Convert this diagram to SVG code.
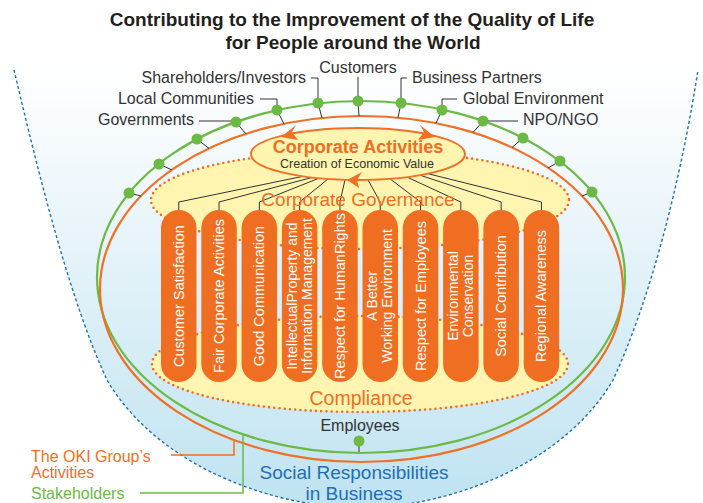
<svg xmlns="http://www.w3.org/2000/svg" width="703" height="503" viewBox="0 0 703 503">
<defs>
<linearGradient id="bowlGrad" gradientUnits="userSpaceOnUse" x1="0" y1="70" x2="0" y2="503">
<stop offset="0" stop-color="#ffffff"/>
<stop offset="0.35" stop-color="#eaf5fa"/>
<stop offset="1" stop-color="#bfe3f1"/>
</linearGradient>
</defs>
<style>
.lbl{font-family:"Liberation Sans",Arial,sans-serif;font-size:16px;fill:#333}
.ln{stroke:#333;stroke-width:1;fill:none}
.dot{fill:#6cb944}
.col{fill:#f06e22}
.ct{font-family:"Liberation Sans",Arial,sans-serif;font-size:14.5px;fill:#fff;text-anchor:middle}
.ct2{font-size:14px}
.band{fill:#fff5b0;stroke:#f07026;stroke-width:2.6;stroke-dasharray:0 5.2;stroke-linecap:round}
.arr{fill:#f07026}
</style>

<g id="bowl">
<path d="M14,70 C40,180 70,300 107,380 C160,470 280,508 360,508 C440,508 560,470 613,380 C650,300 680,185 698,70 Z" fill="url(#bowlGrad)"/>
<path d="M14,70 C40,180 70,300 107,380 C160,470 280,508 360,508 C440,508 560,470 613,380 C650,300 680,185 698,70" fill="none" stroke="#1b70b8" stroke-width="1.4" stroke-dasharray="3 2.5"/>
</g>

<text x="352" y="26" font-family="Liberation Sans, Arial, sans-serif" font-size="19" font-weight="bold" fill="#231f20" text-anchor="middle">Contributing to the Improvement of the Quality of Life</text>
<text x="353" y="49" font-family="Liberation Sans, Arial, sans-serif" font-size="19" font-weight="bold" fill="#231f20" text-anchor="middle">for People around the World</text>

<g id="stakeholders-ring">
<ellipse cx="361" cy="277" rx="264" ry="176" fill="none" stroke="#6cb944" stroke-width="2.2"/>
</g>
<g id="oki-activities-ring">
<ellipse cx="361.5" cy="289" rx="261.5" ry="173" fill="none" stroke="#f07026" stroke-width="2.2"/>
</g>

<g id="governance-band">
<ellipse class="band" cx="360" cy="200" rx="209" ry="49"/>
</g>
<g id="compliance-band">
<ellipse class="band" cx="360" cy="364" rx="208" ry="48"/>
</g>

<g id="connectors">
<polyline class="ln" points="358,77 358,101"/>
<polyline class="ln" points="311,78 318,78 318,103"/>
<polyline class="ln" points="407,78 401,78 401,103"/>
<polyline class="ln" points="260,99 277,99 277,110"/>
<polyline class="ln" points="457,99 442,99 442,110"/>
<polyline class="ln" points="199,121 236,121"/>
<polyline class="ln" points="483,121 518,121"/>
<line class="ln" x1="129" y1="193" x2="141" y2="196"/>
<line class="ln" x1="159" y1="164" x2="172" y2="170"/>
<line class="ln" x1="197" y1="139" x2="209" y2="148.5"/>
<line class="ln" x1="236" y1="122" x2="246" y2="134"/>
<line class="ln" x1="277" y1="110" x2="284" y2="124"/>
<line class="ln" x1="318" y1="103" x2="322" y2="118"/>
<line class="ln" x1="358" y1="101" x2="359" y2="116"/>
<line class="ln" x1="401" y1="103" x2="398" y2="117.7"/>
<line class="ln" x1="442" y1="110" x2="436" y2="123.2"/>
<line class="ln" x1="483" y1="121" x2="473" y2="132.5"/>
<line class="ln" x1="523" y1="138" x2="512" y2="147.5"/>
<line class="ln" x1="560" y1="161" x2="548" y2="168"/>
<line class="ln" x1="592" y1="192" x2="582" y2="196"/>
<line class="ln" x1="359" y1="441" x2="359" y2="452"/>
<polyline class="ln" points="303,176.3 178.75,202 178.75,210"/>
<polyline class="ln" points="312,177.5 219.05,202 219.05,210"/>
<polyline class="ln" points="319,178.2 259.35,202 259.35,210"/>
<polyline class="ln" points="328,179 299.65,202 299.65,210"/>
<polyline class="ln" points="345,179.8 339.95,202 339.95,210"/>
<polyline class="ln" points="368,179.9 380.25,202 380.25,210"/>
<polyline class="ln" points="390,178.8 420.55,202 420.55,210"/>
<polyline class="ln" points="407,177.1 460.85,202 460.85,210"/>
<polyline class="ln" points="420,175.2 501.15,202 501.15,210"/>
<polyline class="ln" points="428,173.7 541.45,202 541.45,210"/>
<polyline points="171,455 234,455 234,440" fill="none" stroke="#f07026" stroke-width="1.5"/>
<polyline points="140,493 243,493 243,434" fill="none" stroke="#6cb944" stroke-width="1.5"/>
</g>

<g id="corporate-activities">
<ellipse cx="358" cy="154" rx="107" ry="26" fill="#fff5b0" stroke="#f07026" stroke-width="2"/>
<polygon class="arr" points="281,137 296,125 292,132 298,140"/>
<polygon class="arr" points="435,137 420,125 424,132 418,140"/>
<polygon class="arr" points="347,180 362,172 357,180 359,188"/>
<text x="358" y="153" font-family="Liberation Sans, Arial, sans-serif" font-size="18" font-weight="bold" fill="#f06e22" text-anchor="middle">Corporate Activities</text>
<text x="357" y="168" font-family="Liberation Sans, Arial, sans-serif" font-size="12.5" fill="#333" text-anchor="middle">Creation of Economic Value</text>
</g>

<text x="358" y="206" font-family="Liberation Sans, Arial, sans-serif" font-size="19" fill="#f06e22" text-anchor="middle">Corporate Governance</text>
<text x="361" y="405" font-family="Liberation Sans, Arial, sans-serif" font-size="19.5" fill="#f06e22" text-anchor="middle">Compliance</text>

<g id="col1"><rect class="col" x="161" y="210" width="35.5" height="172" rx="17.75"/><text class="ct" transform="translate(178.75,296) rotate(-90)" y="5">Customer Satisfaction</text></g>
<g id="col2"><rect class="col" x="201.3" y="210" width="35.5" height="172" rx="17.75"/><text class="ct" transform="translate(219.05,296) rotate(-90)" y="5">Fair Corporate Activities</text></g>
<g id="col3"><rect class="col" x="241.6" y="210" width="35.5" height="172" rx="17.75"/><text class="ct" transform="translate(259.35,296) rotate(-90)" y="5">Good Communication</text></g>
<g id="col4"><rect class="col" x="281.9" y="210" width="35.5" height="172" rx="17.75"/><text class="ct ct2" transform="translate(299.65,296) rotate(-90)"><tspan x="0" y="-3">IntellectualProperty and</tspan><tspan x="0" y="12">Information Management</tspan></text></g>
<g id="col5"><rect class="col" x="322.2" y="210" width="35.5" height="172" rx="17.75"/><text class="ct" transform="translate(339.95,296) rotate(-90)" y="5">Respect for HumanRights</text></g>
<g id="col6"><rect class="col" x="362.5" y="210" width="35.5" height="172" rx="17.75"/><text class="ct ct2" transform="translate(380.25,296) rotate(-90)"><tspan x="0" y="-3">A Better</tspan><tspan x="0" y="12">Working Environment</tspan></text></g>
<g id="col7"><rect class="col" x="402.8" y="210" width="35.5" height="172" rx="17.75"/><text class="ct" transform="translate(420.55,296) rotate(-90)" y="5">Respect for Employees</text></g>
<g id="col8"><rect class="col" x="443.1" y="210" width="35.5" height="172" rx="17.75"/><text class="ct ct2" transform="translate(460.85,296) rotate(-90)"><tspan x="0" y="-3">Environmental</tspan><tspan x="0" y="12">Conservation</tspan></text></g>
<g id="col9"><rect class="col" x="483.4" y="210" width="35.5" height="172" rx="17.75"/><text class="ct" transform="translate(501.15,296) rotate(-90)" y="5">Social Contribution</text></g>
<g id="col10"><rect class="col" x="523.7" y="210" width="35.5" height="172" rx="17.75"/><text class="ct" transform="translate(541.45,296) rotate(-90)" y="5">Regional Awareness</text></g>

<g id="sh-customers"><circle class="dot" cx="358" cy="101" r="5.5"/><text class="lbl" x="358" y="73" text-anchor="middle">Customers</text></g>
<g id="sh-shareholders"><circle class="dot" cx="318" cy="103" r="5.5"/><text class="lbl" x="306" y="83" text-anchor="end">Shareholders/Investors</text></g>
<g id="sh-partners"><circle class="dot" cx="401" cy="103" r="5.5"/><text class="lbl" x="412" y="83">Business Partners</text></g>
<g id="sh-local"><circle class="dot" cx="277" cy="110" r="5.5"/><text class="lbl" x="254" y="104" text-anchor="end">Local Communities</text></g>
<g id="sh-global"><circle class="dot" cx="442" cy="110" r="5.5"/><text class="lbl" x="463" y="104">Global Environment</text></g>
<g id="sh-gov"><circle class="dot" cx="236" cy="122" r="5.5"/><text class="lbl" x="194" y="125" text-anchor="end">Governments</text></g>
<g id="sh-npo"><circle class="dot" cx="483" cy="121" r="5.5"/><text class="lbl" x="523" y="125">NPO/NGO</text></g>
<g id="sh-l1"><circle class="dot" cx="197" cy="139" r="5.5"/></g>
<g id="sh-l2"><circle class="dot" cx="159" cy="164" r="5.5"/></g>
<g id="sh-l3"><circle class="dot" cx="129" cy="193" r="5.5"/></g>
<g id="sh-r1"><circle class="dot" cx="523" cy="138" r="5.5"/></g>
<g id="sh-r2"><circle class="dot" cx="560" cy="161" r="5.5"/></g>
<g id="sh-r3"><circle class="dot" cx="592" cy="192" r="5.5"/></g>
<g id="sh-employees"><circle class="dot" cx="359" cy="441" r="5.5"/><text class="lbl" x="360" y="431" text-anchor="middle">Employees</text></g>

<g id="legend">
<text font-family="Liberation Sans, Arial, sans-serif" font-size="16" fill="#f07026"><tspan x="31" y="462">The OKI Group’s</tspan><tspan x="31" y="478">Activities</tspan></text>
<text x="31" y="499" font-family="Liberation Sans, Arial, sans-serif" font-size="16" fill="#6cb944">Stakeholders</text>
</g>

<text font-family="Liberation Sans, Arial, sans-serif" font-size="19" fill="#1f6eb7" text-anchor="middle"><tspan x="354" y="479">Social Responsibilities</tspan><tspan x="354" y="500">in Business</tspan></text>
</svg>
